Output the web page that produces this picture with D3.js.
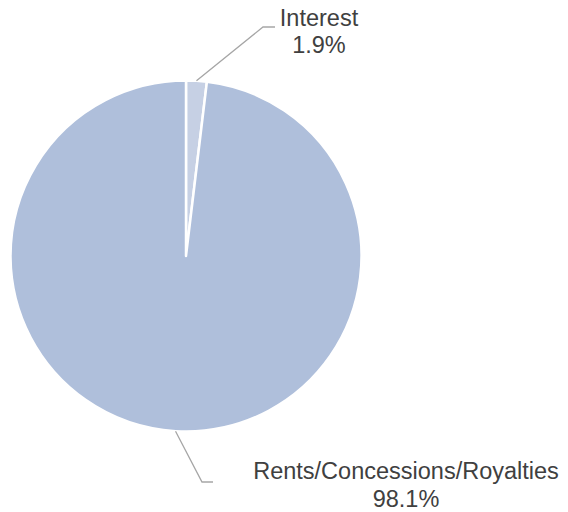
<!DOCTYPE html>
<html>
<head>
<meta charset="utf-8">
<script src="https://cdn.jsdelivr.net/npm/d3@7"></script>
<style>
  html, body { margin: 0; padding: 0; background: #fff; }
  svg { display: block; }
</style>
</head>
<body>
<svg id="chart" width="568" height="512"></svg>
<script>
// Revenue share by source
const categories = ["Interest", "Rents/Concessions/Royalties"];
const shares = [1.9, 98.1];
const sliceColors = ["#c6d0e4", "#afbfdb"];

const width = 568, height = 512;
const cx = 186, cy = 256, radius = 175.5;

const svg = d3.select("#chart");
const g = svg.append("g").attr("transform", `translate(${cx},${cy})`);

const data = categories.map((c, i) => ({ category: c, value: shares[i], color: sliceColors[i] }));

const pie = d3.pie().value(d => d.value).sort(null);
const arcs = pie(data);
const arc = d3.arc().innerRadius(0).outerRadius(radius);

g.selectAll("path.slice")
  .data(arcs)
  .enter().append("path")
  .attr("class", "slice")
  .attr("d", arc)
  .attr("fill", d => d.data.color)
  .attr("stroke", "#ffffff")
  .attr("stroke-width", 2.5)
  .attr("stroke-linejoin", "round");

// Label placement: elbow point, end of horizontal run, text anchor position
const labelLayout = [
  { elbow: [263, 27], end: [275, 27], text: [319, 26], lineGap: 27 },
  { elbow: [202, 482], end: [213, 482], text: [406, 479], lineGap: 28 }
];

const outerPoint = d3.arc().innerRadius(radius).outerRadius(radius);

arcs.forEach((a, i) => {
  const [px, py] = outerPoint.centroid(a);
  const L = labelLayout[i];
  svg.append("polyline")
    .attr("points", [[cx + px, cy + py], L.elbow, L.end].map(p => p.join(",")).join(" "))
    .attr("fill", "none")
    .attr("stroke", "#a6a6a6")
    .attr("stroke-width", 1.3);

  const t = svg.append("text")
    .attr("x", L.text[0])
    .attr("y", L.text[1])
    .attr("text-anchor", "middle")
    .attr("font-family", "Liberation Sans, Arial, sans-serif")
    .attr("font-size", 23.5)
    .attr("fill", "#404040");
  t.append("tspan").attr("x", L.text[0]).text(a.data.category);
  t.append("tspan").attr("x", L.text[0]).attr("dy", L.lineGap)
    .text(d3.format(".1f")(a.data.value) + "%");
});
</script>
</body>
</html>
